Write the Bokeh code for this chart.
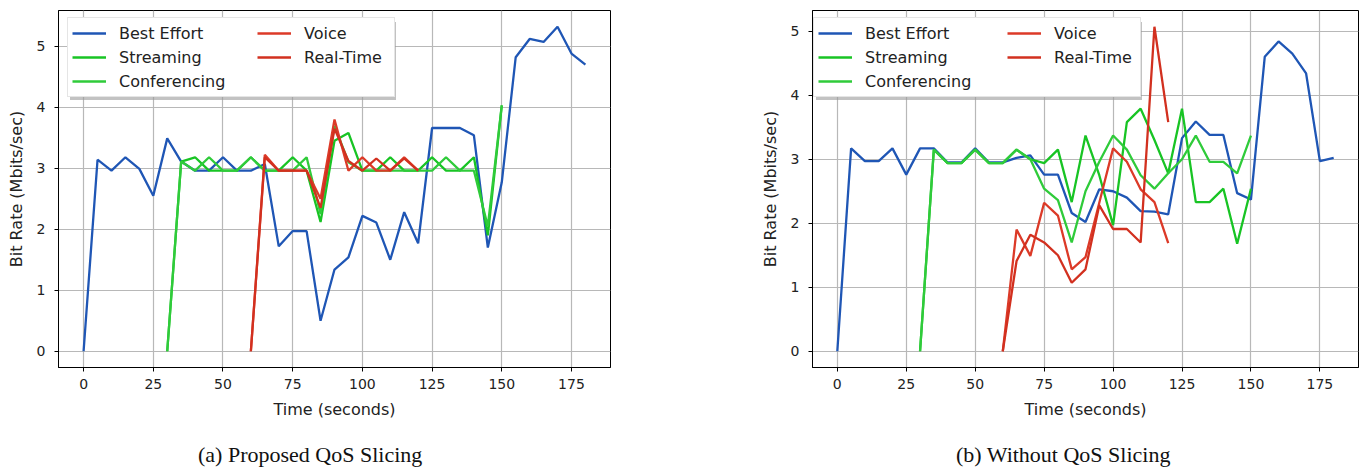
from bokeh.plotting import figure
from bokeh.models import Range1d, Legend, LegendItem, SingleIntervalTicker, Div
from bokeh.layouts import row, column
from bokeh.embed import file_html
from bokeh.resources import INLINE

# ---------------- data ----------------
time_be = list(range(0, 181, 5))      # Best Effort samples
time_sc = list(range(30, 151, 5))     # Streaming / Conferencing samples
time_vr = list(range(60, 121, 5))     # Voice / Real-Time samples

# (a) Proposed QoS Slicing
be_a = [0, 3.14, 2.96, 3.18, 2.99, 2.55, 3.49, 3.11, 2.96, 2.96, 3.18, 2.96, 2.96,
        3.07, 1.72, 1.97, 1.97, 0.50, 1.34, 1.54, 2.22, 2.11, 1.50, 2.28, 1.77,
        3.66, 3.66, 3.66, 3.54, 1.70, 2.77, 4.82, 5.12, 5.07, 5.32, 4.88, 4.70]
st_a = [0, 3.11, 3.18, 2.96, 2.96, 2.96, 3.18, 2.96, 2.96, 3.18, 2.96, 2.12, 3.45,
        3.58, 2.96, 2.96, 3.18, 2.96, 2.96, 3.18, 2.96, 2.96, 3.18, 1.90, 4.03]
cf_a = [0, 3.11, 2.96, 3.18, 2.96, 2.96, 3.18, 2.96, 2.96, 2.96, 3.18, 2.25, 3.70,
        3.10, 2.96, 2.96, 2.96, 2.96, 2.96, 2.96, 3.18, 2.96, 2.96, 2.05, 4.03]
vo_a = [0, 3.22, 2.96, 2.96, 2.96, 2.50, 3.80, 2.96, 3.18, 2.96, 2.96, 3.18, 2.96]
rt_a = [0, 3.18, 2.96, 2.96, 2.96, 2.35, 3.65, 3.12, 2.96, 3.16, 2.96, 3.16, 2.96]

# (b) Without QoS Slicing
be_b = [0, 3.17, 2.97, 2.97, 3.17, 2.76, 3.17, 3.17, 2.95, 2.95, 3.17, 2.95, 2.95,
        3.02, 3.06, 2.76, 2.76, 2.16, 2.02, 2.53, 2.50, 2.40, 2.19, 2.18, 2.14,
        3.33, 3.59, 3.38, 3.38, 2.47, 2.37, 4.60, 4.84, 4.65, 4.34, 2.97, 3.02]
st_b = [0, 3.15, 2.94, 2.94, 3.15, 2.94, 2.94, 3.15, 3.00, 2.94, 3.15, 2.33, 3.37,
        2.75, 1.97, 3.58, 3.79, 3.30, 2.78, 3.79, 2.33, 2.33, 2.54, 1.68, 2.54]
cf_b = [0, 3.15, 2.94, 2.94, 3.15, 2.94, 2.94, 3.15, 3.00, 2.54, 2.36, 1.70, 2.50,
        2.96, 3.37, 3.15, 2.75, 2.54, 2.78, 3.00, 3.37, 2.96, 2.96, 2.78, 3.37]
vo_b = [0, 1.90, 1.49, 2.32, 2.12, 1.28, 1.47, 2.32, 3.17, 2.96, 2.53, 2.33, 1.69]
rt_b = [0, 1.41, 1.82, 1.70, 1.50, 1.07, 1.28, 2.28, 1.91, 1.91, 1.70, 5.07, 3.58]

labels = ["Best Effort", "Streaming", "Conferencing", "Voice", "Real-Time"]
captions = ["(a) Proposed QoS Slicing", "(b) Without QoS Slicing"]
x_label = "Time (seconds)"
y_label = "Bit Rate (Mbits/sec)"

# ---------------- style ----------------
COLORS = ["#1f56b5", "#18c424", "#2fcb3a", "#dc3a28", "#d2301f"]
SANS = "DejaVu Sans"
FIG_H = 430
CAP_H = 38


def make_plot(width, border_left, border_right, series, leg_x, leg2_x):
    times = [time_be, time_sc, time_sc, time_vr, time_vr]
    ymax = max(max(s) for s in series)
    ypad = 0.05 * ymax
    xmin, xmax = min(time_be), max(time_be)
    xpad = 0.05 * (xmax - xmin)
    p = figure(width=width, height=FIG_H,
               x_range=Range1d(xmin - xpad, xmax + xpad),
               y_range=Range1d(-ypad, ymax + ypad),
               output_backend="svg", toolbar_location=None,
               min_border_left=border_left, min_border_right=border_right,
               min_border_top=10, min_border_bottom=63)
    p.background_fill_color = "white"
    p.border_fill_color = "white"
    p.outline_line_color = "black"
    p.outline_line_width = 1
    p.outline_line_alpha = 1

    rs = []
    for t, s, c in zip(times, series, COLORS):
        rs.append(p.line(t, s, line_color=c, line_width=2.3))
    dummy = p.line([], [], line_alpha=0)

    p.xaxis.ticker = SingleIntervalTicker(interval=25)
    p.yaxis.ticker = SingleIntervalTicker(interval=1)
    for ax in (p.xaxis, p.yaxis):
        ax.axis_line_color = "black"
        ax.major_tick_line_color = "black"
        ax.major_tick_out = 4
        ax.major_tick_in = 0
        ax.minor_tick_line_color = None
        ax.major_label_text_font = SANS
        ax.major_label_text_font_size = "14px"
        ax.major_label_text_color = "#222222"
        ax.axis_label_text_font = SANS
        ax.axis_label_text_font_size = "16px"
        ax.axis_label_text_font_style = "normal"
        ax.axis_label_text_color = "#222222"
    p.xaxis.axis_label = x_label
    p.yaxis.axis_label = y_label
    p.xaxis.major_label_standoff = 7
    p.yaxis.major_label_standoff = 9
    p.xaxis.axis_label_standoff = 8
    p.yaxis.axis_label_standoff = 8

    p.grid.grid_line_color = "#b8b8b8"
    p.grid.grid_line_width = 1.2

    common = dict(glyph_width=34, glyph_height=22, label_height=22, label_standoff=13,
                  spacing=2, padding=4, margin=0,
                  label_text_font=SANS, label_text_font_size="16px",
                  label_text_color="#222222")
    # shadow of the legend box
    shadow = Legend(items=[LegendItem(label=" ", renderers=[dummy])],
                    location=(leg_x + 3, 267), label_width=271,
                    glyph_width=34, glyph_height=70, label_height=70, label_standoff=13,
                    padding=4, margin=0, label_text_alpha=0,
                    border_line_alpha=0, background_fill_color="#9a9a9a",
                    background_fill_alpha=0.6)
    leg1 = Legend(items=[LegendItem(label=labels[i], renderers=[rs[i]]) for i in range(3)],
                  location=(leg_x, 270), label_width=271,
                  border_line_color="#cccccc", border_line_width=1,
                  background_fill_color="white", background_fill_alpha=1.0, **common)
    leg2 = Legend(items=[LegendItem(label=labels[i], renderers=[rs[i]]) for i in range(3, 5)],
                  location=(leg2_x, 295),
                  border_line_alpha=0, background_fill_alpha=0, **common)
    p.add_layout(shadow)
    p.add_layout(leg1)
    p.add_layout(leg2)
    return p


def make_caption(text, width, left_pad):
    html = ('<div style="padding-left:%dpx; padding-top:13px; '
            'font-family:\'Liberation Serif\', serif; font-size:22px; '
            'line-height:24px; color:#111111; white-space:nowrap;">%s</div>'
            % (left_pad, text))
    return Div(text=html, width=width, height=CAP_H, margin=0)


p1 = make_plot(740, 58, 130, [be_a, st_a, cf_a, vo_a, rt_a], 9, 195)
p2 = make_plot(624, 72, 6, [be_b, st_b, cf_b, vo_b, rt_b], 1, 191)
c1 = make_caption(captions[0], 740, 198)
c2 = make_caption(captions[1], 624, 216)

layout = row(column(p1, c1, spacing=0), column(p2, c2, spacing=0), spacing=0)
open("out.html", "w").write(file_html(layout, INLINE))
